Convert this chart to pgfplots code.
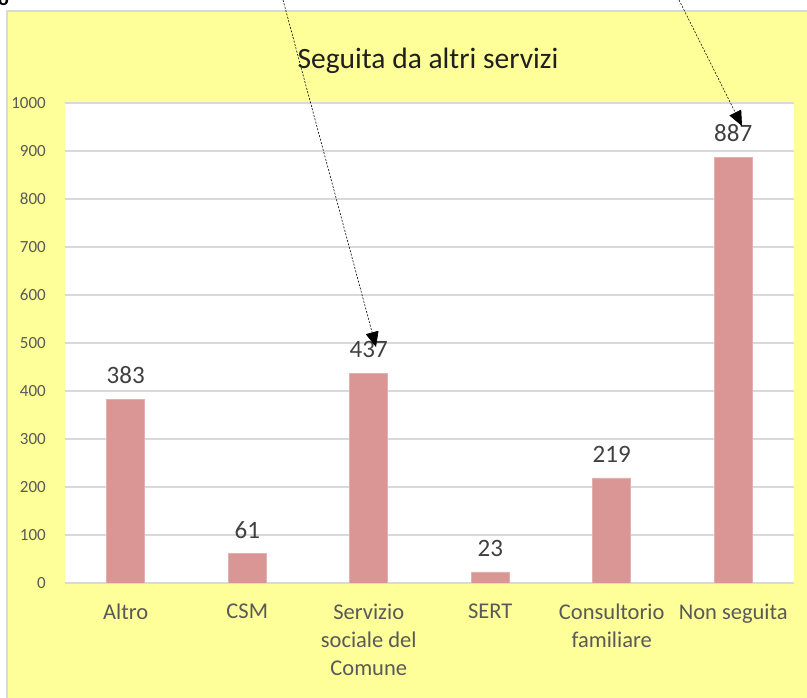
\documentclass[border=0pt]{standalone}
\usepackage{fontspec}
\setmainfont{Carlito}
\usepackage{pgfplots}
\pgfplotsset{compat=1.18}
\usetikzlibrary{arrows.meta}
\definecolor{bgyellow}{HTML}{FFFF99}
\definecolor{gridgray}{HTML}{D9D9D9}
\definecolor{barpink}{HTML}{D99694}
\definecolor{ticktext}{HTML}{595959}
\definecolor{labeltext}{HTML}{404040}
\begin{document}
\begin{tikzpicture}[x=1pt,y=1pt]
\path[use as bounding box] (0,0) rectangle (807,698);
\clip (0,0) rectangle (807,698);
\fill[white] (0,0) rectangle (807,698);
\filldraw[fill=bgyellow, draw=gridgray, line width=1.2pt] (7,-5) rectangle (812,687);
\begin{axis}[
  at={(65pt,115pt)}, anchor=south west,
  scale only axis, width=729pt, height=480pt,
  xmin=-0.5, xmax=5.5, ymin=0, ymax=1000,
  axis background/.style={fill=white},
  axis line style={draw=none},
  ybar, bar width=38pt,
  xtick={0,...,5},
  xticklabels={Altro, CSM, {Servizio\\sociale del\\Comune}, SERT, {Consultorio\\familiare}, Non seguita},
  ytick={0,100,...,1000},
  ymajorgrids, major grid style={gridgray, line width=1.2pt},
  major tick length=0pt,
  /pgf/number format/1000 sep={},
  /pgf/number format/assume math mode=true,
  tick label style={text=ticktext},
  y tick label style={font=\fontsize{17}{20}\selectfont, anchor=east, inner sep=0pt, xshift=-19pt},
  x tick label style={font=\fontsize{22.5}{28}\selectfont, align=center, anchor=north, inner sep=0pt, yshift=-21pt},
  nodes near coords,
  every node near coord/.append style={font=\fontsize{25}{25}\selectfont, text=labeltext, anchor=south, inner sep=0pt, yshift=15pt},
]
\addplot[fill=barpink, draw=barpink!75!white, line width=0.6pt] coordinates {(0,383) (1,61) (2,437) (3,23) (4,219) (5,887)};
\end{axis}
\node[anchor=base, text=black!88, font=\fontsize{29.5}{30}\selectfont] at (428,629) {Seguita da altri servizi};
\node[anchor=base west, inner sep=0pt, font=\bfseries\fontsize{20}{20}\selectfont] at (-2,692) {o};
\draw[black, line width=0.6pt, dash pattern=on 2pt off 1.5pt, -{Triangle[length=15pt,width=13pt]}] (283,698) -- (376,351);
\draw[black, line width=0.6pt, dash pattern=on 2pt off 1.5pt, -{Triangle[length=15pt,width=13pt]}] (679,698) -- (742,572);
\end{tikzpicture}
\end{document}
